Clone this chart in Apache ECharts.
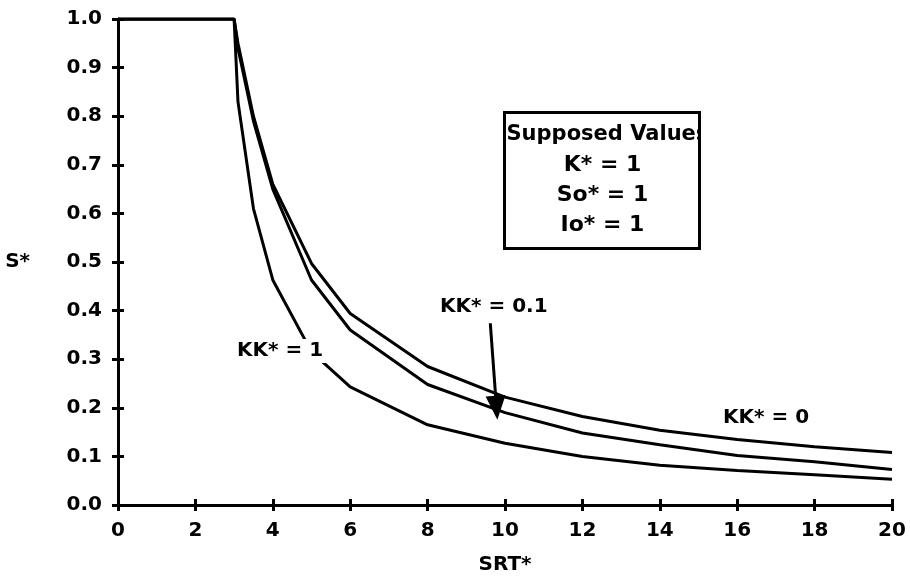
<!DOCTYPE html>
<html>
<head>
<meta charset="utf-8">
<script src="https://cdn.jsdelivr.net/npm/echarts@6/dist/echarts.min.js"></script>
<style>
  html, body { margin: 0; background: #fff; }
  #chart { width: 910px; height: 586px; }
</style>
</head>
<body>
<div id="chart"></div>
<script>
const srt = [0, 3, 3.1, 3.5, 4, 5, 6, 8, 10, 12, 14, 16, 18, 20];
// S* for each KK*
const sKK0 = [1, 1, 0.95, 0.80, 0.66, 0.497, 0.394, 0.285, 0.222, 0.182, 0.154, 0.135, 0.12, 0.108];
const sKK01 = [1, 1, 0.94, 0.79, 0.65, 0.463, 0.36, 0.248, 0.19, 0.148, 0.124, 0.102, 0.089, 0.073];
const sKK1 = [1, 1, 0.83, 0.61, 0.463, 0.315, 0.243, 0.165, 0.127, 0.1, 0.082, 0.071, 0.062, 0.053];
const xTicks = [0, 20, 2];
const yTicks = [0, 1, 0.1];
const boxLines = ['K* = 1', 'So* = 1', 'Io* = 1'];

const font = 'DejaVu Sans';
const chart = echarts.init(document.getElementById('chart'));

function pairs(ys) {
  return srt.map((x, i) => [x, ys[i]]);
}

const lineStyle = { color: '#000', width: 3 };
const tickStyle = { color: '#000', width: 3 };
const labelText = { fontFamily: font, fontSize: 20, fontWeight: 'bold', color: '#000' };

function curve(name, ys, extra) {
  return Object.assign({
    name: name,
    type: 'line',
    data: pairs(ys),
    showSymbol: false,
    silent: true,
    lineStyle: { color: '#000', width: 3 },
    z: 3
  }, extra || {});
}

const option = {
  animation: false,
  backgroundColor: '#fff',
  grid: { left: 118, right: 18, top: 19, bottom: 81 },
  xAxis: [
    {
      type: 'value', min: xTicks[0], max: xTicks[1], interval: xTicks[2],
      axisLine: { lineStyle: lineStyle },
      axisTick: { length: 6, lineStyle: tickStyle },
      axisLabel: Object.assign({ margin: 16 }, labelText),
      splitLine: { show: false },
      name: 'SRT*', nameLocation: 'middle', nameGap: 50,
      nameTextStyle: labelText
    },
    {
      type: 'value', min: xTicks[0], max: xTicks[1], interval: xTicks[2],
      position: 'bottom',
      axisLine: { show: false },
      axisTick: { inside: true, length: 6, lineStyle: tickStyle },
      axisLabel: { show: false },
      splitLine: { show: false }
    }
  ],
  yAxis: [
    {
      type: 'value', min: yTicks[0], max: yTicks[1], interval: yTicks[2],
      axisLine: { lineStyle: lineStyle },
      axisTick: { length: 6, lineStyle: tickStyle },
      axisLabel: Object.assign({ margin: 16, formatter: v => v.toFixed(1) }, labelText),
      splitLine: { show: false },
      name: 'S*', nameLocation: 'middle', nameRotate: 0, nameGap: 88,
      nameTextStyle: labelText
    },
    {
      type: 'value', min: yTicks[0], max: yTicks[1], interval: yTicks[2],
      position: 'left',
      axisLine: { show: false },
      axisTick: { inside: true, length: 6, lineStyle: tickStyle },
      axisLabel: { show: false },
      splitLine: { show: false }
    }
  ],
  series: [
    curve('KK* = 0', sKK0),
    curve('KK* = 0.1', sKK01, {
      markLine: {
        silent: true,
        symbol: ['none', 'triangle'],
        symbolSize: [20, 24],
        label: { show: false },
        lineStyle: { color: '#000', width: 3, type: 'solid' },
        data: [[{ coord: [9.62, 0.374] }, { coord: [9.78, 0.2] }]]
      }
    }),
    curve('KK* = 1', sKK1)
  ],
  graphic: [
    {
      type: 'text', left: 233, top: 339, z: 100,
      style: Object.assign({ text: 'KK* = 1', backgroundColor: '#fff', padding: [2, 4] }, { font: 'bold 20px "DejaVu Sans"', fill: '#000' })
    },
    {
      type: 'text', left: 440, top: 297, z: 100,
      style: { text: 'KK* = 0.1', font: 'bold 20px "DejaVu Sans"', fill: '#000' }
    },
    {
      type: 'text', left: 723, top: 408, z: 100,
      style: { text: 'KK* = 0', font: 'bold 20px "DejaVu Sans"', fill: '#000' }
    },
    {
      type: 'group', left: 502, top: 110, z: 100,
      children: [
        { type: 'rect', shape: { x: 0, y: 0, width: 195, height: 136 }, style: { fill: '#fff' } },
        {
          type: 'text', x: 2, y: 12,
          style: { text: 'Supposed Values', font: 'bold 21px "DejaVu Sans"', fill: '#000' }
        },
        { type: 'rect', shape: { x: 196, y: 2, width: 40, height: 40 }, style: { fill: '#fff' } }
      ].concat(boxLines.map((t, i) => ({
        type: 'text', x: 98, y: 42 + i * 30,
        style: { text: t, font: 'bold 22px "DejaVu Sans"', fill: '#000', align: 'center' }
      }))).concat([
        { type: 'rect', shape: { x: 0, y: 0, width: 195, height: 136 }, style: { fill: null, stroke: '#000', lineWidth: 3 } }
      ])
    }
  ]
};

chart.setOption(option);
</script>
</body>
</html>
